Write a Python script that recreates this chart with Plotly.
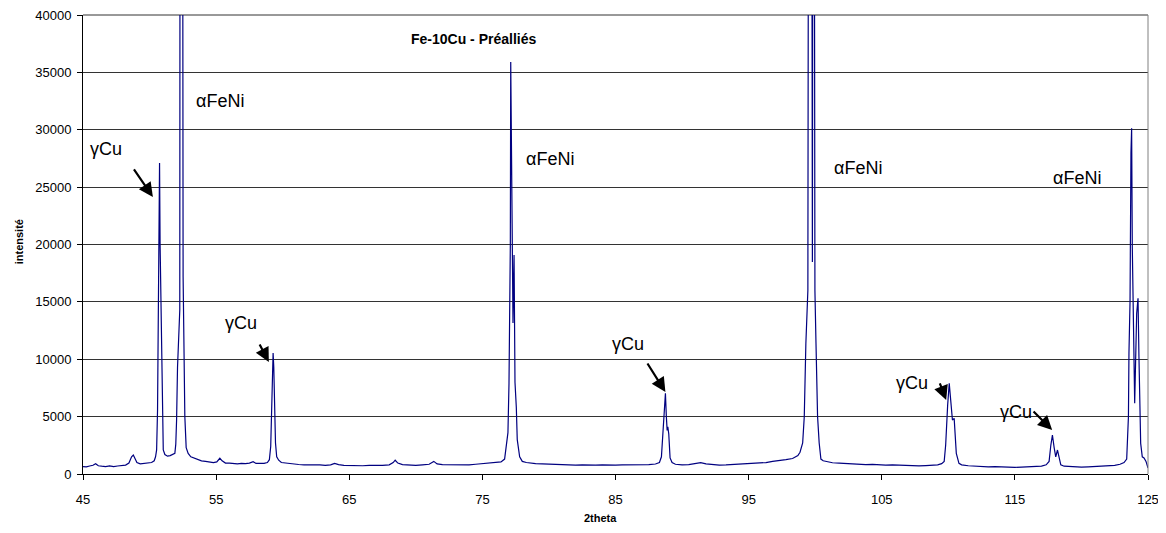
import plotly.graph_objects as go

# ---- data ----
two_theta = [
    45.00, 45.25, 45.50, 45.75, 45.95, 46.15, 46.40, 46.70, 47.00, 47.30, 47.60, 47.90,
    48.20, 48.45, 48.65, 48.78, 48.90, 49.05, 49.30, 49.60, 49.90, 50.15, 50.35, 50.45,
    50.53, 50.60, 50.63, 50.66, 50.70, 50.75, 50.79, 50.83, 50.86, 50.92, 50.96, 51.03,
    51.15, 51.35, 51.55, 51.75, 51.90, 51.97, 52.03, 52.10, 52.18, 52.27, 52.29, 52.48,
    52.52, 52.60, 52.65, 52.75, 52.90, 53.10, 53.30, 53.60, 53.90, 54.20, 54.50, 54.80,
    55.05, 55.28, 55.45, 55.70, 56.00, 56.30, 56.60, 56.90, 57.20, 57.50, 57.78, 58.00,
    58.30, 58.60, 58.85, 59.00, 59.10, 59.17, 59.22, 59.28, 59.33, 59.39, 59.46, 59.55,
    59.70, 59.90, 60.20, 60.50, 60.80, 61.20, 61.60, 62.00, 62.40, 62.80, 63.20, 63.60,
    63.90, 64.20, 64.60, 65.00, 65.50, 66.00, 66.50, 67.00, 67.50, 68.00, 68.30, 68.45,
    68.65, 69.00, 69.50, 70.00, 70.50, 71.00, 71.35, 71.60, 72.00, 72.50, 73.00, 73.50,
    74.00, 74.50, 75.00, 75.50, 76.00, 76.40, 76.67, 76.80, 76.92, 77.00, 77.06, 77.10,
    77.13, 77.30, 77.38, 77.45, 77.55, 77.62, 77.80, 78.00, 78.30, 78.60, 79.00, 79.50,
    80.00, 80.50, 81.00, 81.50, 82.00, 82.50, 83.00, 83.50, 84.00, 84.50, 85.00, 85.50,
    86.00, 86.50, 87.00, 87.50, 88.00, 88.30, 88.45, 88.60, 88.70, 88.75, 88.82, 88.88,
    88.93, 89.00, 89.10, 89.25, 89.50, 90.00, 90.50, 91.00, 91.40, 91.80, 92.30, 92.80,
    93.30, 93.80, 94.30, 94.80, 95.30, 95.80, 96.30, 96.80, 97.30, 97.80, 98.30, 98.70,
    98.86, 99.06, 99.18, 99.30, 99.45, 99.50, 99.74, 99.79, 99.83, 99.93, 99.98, 100.06,
    100.18, 100.30, 100.43, 100.60, 100.90, 101.30, 101.80, 102.30, 102.80, 103.30, 103.80, 104.30,
    104.80, 105.30, 105.80, 106.30, 106.80, 107.30, 107.80, 108.30, 108.80, 109.20, 109.50, 109.69,
    109.80, 109.86, 109.95, 110.07, 110.15, 110.20, 110.31, 110.44, 110.52, 110.60, 110.80, 111.00,
    111.50, 112.00, 112.50, 113.00, 113.50, 114.00, 114.50, 115.00, 115.50, 116.00, 116.50, 117.00,
    117.35, 117.57, 117.70, 117.82, 117.95, 118.07, 118.20, 118.30, 118.45, 118.70, 119.00, 119.50,
    120.00, 120.50, 121.00, 121.50, 122.00, 122.50, 122.90, 123.20, 123.40, 123.48, 123.53, 123.57,
    123.65, 123.72, 123.77, 123.82, 124.00, 124.15, 124.25, 124.32, 124.45, 124.57, 124.70, 124.85,
    125.00,
]
intensity = [
    650, 620, 700, 760, 900, 720, 680, 650, 700, 640, 700, 720,
    780, 950, 1500, 1650, 1400, 1000, 880, 900, 950, 1000, 1150, 1500,
    2100, 5600, 10000, 15800, 17500, 27100, 20100, 16500, 15500, 8000, 4400, 2100,
    1700, 1550, 1600, 1700, 1800, 2600, 4700, 9300, 12500, 14300, 60000, 60000,
    17200, 9000, 5000, 2300, 1800, 1500, 1400, 1250, 1150, 1100, 1050, 1000,
    1050, 1370, 1150, 950, 950, 900, 880, 920, 900, 950, 1070, 920,
    900, 920, 1000, 1250, 2400, 5500, 7900, 10540, 9350, 6450, 2700, 1500,
    1200, 1000, 950, 900, 850, 830, 800, 820, 780, 800, 760, 800,
    930, 820, 760, 740, 760, 720, 760, 740, 760, 800, 1000, 1200,
    950, 820, 780, 760, 800, 850, 1100, 880, 820, 800, 780, 820,
    800, 850, 900, 920, 950, 1050, 1300, 2500, 3600, 7900, 15000, 20000,
    35900, 13160, 19080, 8000, 5800, 3000, 1500, 1100, 1000, 950, 900, 880,
    850, 830, 800, 820, 780, 800, 760, 780, 800, 770, 780, 800,
    790, 780, 800, 820, 870, 1000, 1500, 4000, 6000, 7030, 5000, 3800,
    4120, 3500, 1400, 1000, 850, 800, 820, 900, 990, 880, 820, 780,
    800, 830, 820, 880, 920, 950, 1000, 1100, 1150, 1250, 1350, 1600,
    1900, 2700, 5000, 11400, 16000, 60000, 60000, 18470, 60000, 60000, 16000, 11400,
    5000, 2700, 1300, 1150, 1050, 980, 940, 900, 880, 860, 820, 840,
    800, 780, 800, 760, 740, 720, 700, 730, 760, 800, 900, 1100,
    2500, 4120, 6000, 7900, 6800, 6160, 4700, 4850, 3500, 1800, 930, 800,
    720, 680, 650, 620, 640, 600, 620, 580, 600, 620, 640, 680,
    800, 1100, 2500, 3400, 2300, 1500, 2090, 1600, 800, 680, 650, 630,
    600, 620, 640, 660, 700, 750, 850, 1000, 1300, 2960, 5000, 10540,
    15000, 28000, 30130, 19800, 6160, 14000, 15310, 10220, 2670, 1500, 1400, 1100,
    520,
]

x_ticks = [45, 55, 65, 75, 85, 95, 105, 115, 125]
y_ticks = [0, 5000, 10000, 15000, 20000, 25000, 30000, 35000, 40000]

chart_title = "Fe-10Cu - Préalliés"
x_title = "2theta"
y_title = "intensité"

# phase labels: (text, x, y)
label_texts = ["γCu", "αFeNi", "γCu", "αFeNi", "γCu", "αFeNi", "γCu", "αFeNi", "γCu"]
label_x = [45.38, 53.33, 55.51, 78.10, 84.62, 101.29, 105.94, 117.72, 113.74]
label_y = [28320, 32530, 13160, 27450, 11330, 26670, 7930, 25800, 5400]

# arrows: tail (x, y) -> head (x, y)
arrow_tail_x = [48.75, 58.21, 87.33, 109.32, 116.29]
arrow_tail_y = [26670, 11420, 9760, 8020, 5580]
arrow_head_x = [50.25, 58.96, 88.75, 109.84, 117.80]
arrow_head_y = [24140, 9760, 7150, 6450, 3830]

FONT = "Liberation Sans, Arial, sans-serif"

fig = go.Figure()
fig.add_trace(go.Scatter(
    x=two_theta, y=intensity, mode="lines",
    line=dict(color="#000080", width=1.2),
    showlegend=False, hoverinfo="skip",
))

annotations = []
for t, lx, ly in zip(label_texts, label_x, label_y):
    annotations.append(dict(
        x=lx, y=ly, xref="x", yref="y", text=t, showarrow=False,
        xanchor="left", yanchor="middle",
        font=dict(family=FONT, size=18, color="#000000"),
    ))
for tx, ty, hx, hy in zip(arrow_tail_x, arrow_tail_y, arrow_head_x, arrow_head_y):
    annotations.append(dict(
        x=hx, y=hy, xref="x", yref="y", ax=tx, ay=ty, axref="x", ayref="y",
        text="", showarrow=True, arrowhead=2, arrowsize=1.3, arrowwidth=2.2,
        arrowcolor="#000000", standoff=0, startstandoff=0,
    ))
# title
annotations.append(dict(
    x=74.34, y=37910, xref="x", yref="y", text="<b>" + chart_title + "</b>",
    showarrow=False, xanchor="center", yanchor="middle",
    font=dict(family=FONT, size=14, color="#000000"),
))
# axis titles
annotations.append(dict(
    x=0.486, y=-0.096, xref="paper", yref="paper", text="<b>" + x_title + "</b>",
    showarrow=False, xanchor="center", yanchor="middle",
    font=dict(family=FONT, size=11, color="#000000"),
))
annotations.append(dict(
    x=-0.060, y=0.505, xref="paper", yref="paper", text="<b>" + y_title + "</b>",
    showarrow=False, xanchor="center", yanchor="middle", textangle=-90,
    font=dict(family=FONT, size=11, color="#000000"),
))

# the page body has an 8px default margin, so the figure is sized to compensate
fig.update_layout(
    width=1158, height=525,
    margin=dict(l=75, r=18, t=7, b=59, autoexpand=False),
    paper_bgcolor="white", plot_bgcolor="white",
    font=dict(family=FONT, size=13, color="#000000"),
    annotations=annotations,
    shapes=[
        dict(type="line", xref="paper", yref="paper", x0=1, x1=1, y0=0, y1=1,
             line=dict(color="#808080", width=1)),
        dict(type="line", xref="paper", yref="paper", x0=0, x1=1, y0=1, y1=1,
             line=dict(color="#333333", width=1), layer="below"),
    ],
)
fig.update_xaxes(
    range=[45, 125], tickmode="array", tickvals=x_ticks,
    ticktext=[str(v) for v in x_ticks], automargin=False,
    showgrid=False, zeroline=False, showline=True, linecolor="#000000", linewidth=1,
    ticks="outside", ticklen=5, tickcolor="#000000", ticklabelstandoff=8,
    ticklabeloverflow="allow",
    tickfont=dict(family=FONT, size=13, color="#000000"),
)
fig.update_yaxes(
    range=[0, 40000], tickmode="array", tickvals=y_ticks,
    ticktext=[str(v) for v in y_ticks], automargin=False,
    showgrid=True, gridcolor="#333333", gridwidth=1, zeroline=False,
    showline=True, linecolor="#000000", linewidth=1,
    ticks="outside", ticklen=5, tickcolor="#000000", ticklabelstandoff=3,
    ticklabeloverflow="allow",
    tickfont=dict(family=FONT, size=13, color="#000000"),
)

fig.write_html("out.html")
